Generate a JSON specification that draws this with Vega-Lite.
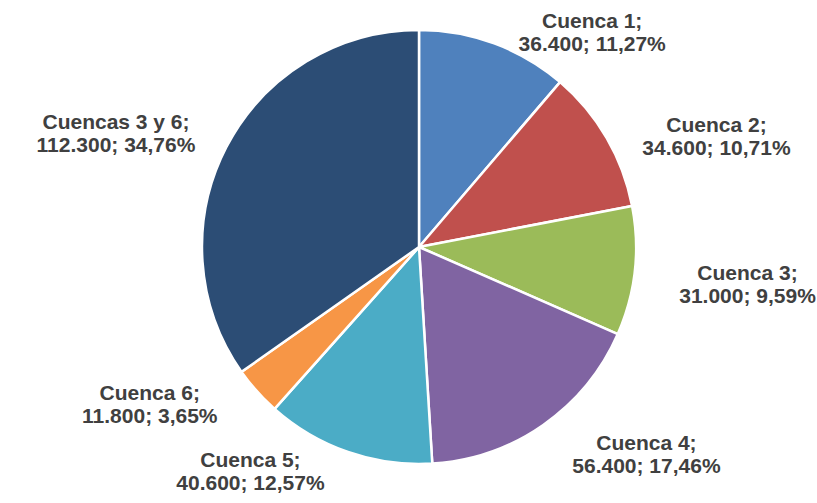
{
  "$schema": "https://vega.github.io/schema/vega-lite/v6.json",
  "width": 796,
  "height": 494,
  "autosize": {"type": "none"},
  "padding": {"left": 21, "top": 0, "right": 0, "bottom": 9},
  "background": "white",
  "config": {"view": {"stroke": null}},
  "data": {
    "values": [
      {"orden": 1, "cuenca": "Cuenca 1", "valor": 36400, "etiqueta": "Cuenca 1;\n36.400; 11,27%"},
      {"orden": 2, "cuenca": "Cuenca 2", "valor": 34600, "etiqueta": "Cuenca 2;\n34.600; 10,71%"},
      {"orden": 3, "cuenca": "Cuenca 3", "valor": 31000, "etiqueta": "Cuenca 3;\n31.000; 9,59%"},
      {"orden": 4, "cuenca": "Cuenca 4", "valor": 56400, "etiqueta": "Cuenca 4;\n56.400; 17,46%"},
      {"orden": 5, "cuenca": "Cuenca 5", "valor": 40600, "etiqueta": "Cuenca 5;\n40.600; 12,57%"},
      {"orden": 6, "cuenca": "Cuenca 6", "valor": 11800, "etiqueta": "Cuenca 6;\n11.800; 3,65%"},
      {"orden": 7, "cuenca": "Cuencas 3 y 6", "valor": 112300, "etiqueta": "Cuencas 3 y 6;\n112.300; 34,76%"}
    ]
  },
  "encoding": {
    "theta": {"field": "valor", "type": "quantitative", "stack": true},
    "order": {"field": "orden", "type": "quantitative"}
  },
  "layer": [
    {
      "mark": {"type": "arc", "outerRadius": 217, "stroke": "white", "strokeWidth": 2.5},
      "encoding": {
        "color": {
          "field": "cuenca",
          "type": "nominal",
          "legend": null,
          "scale": {
            "domain": ["Cuenca 1", "Cuenca 2", "Cuenca 3", "Cuenca 4", "Cuenca 5", "Cuenca 6", "Cuencas 3 y 6"],
            "range": ["#4F81BD", "#C0504D", "#9BBB59", "#8064A2", "#4BACC6", "#F79646", "#2C4D75"]
          }
        }
      }
    },
    {
      "mark": {"type": "text", "radius": 240, "dx": 90, "align": "center", "baseline": "middle", "lineBreak": "\n", "lineHeight": 23, "font": "Liberation Sans", "fontSize": 21, "fontWeight": "bold", "color": "#404040"},
      "encoding": {
        "detail": {"field": "cuenca", "type": "nominal"},
        "text": {
          "condition": {"test": "indexof(['Cuenca 5','Cuenca 6','Cuencas 3 y 6'], datum.cuenca) < 0", "field": "etiqueta", "type": "nominal"},
          "value": ""
        }
      }
    },
    {
      "mark": {"type": "text", "radius": 240, "dx": -90, "dy": -13, "align": "center", "baseline": "middle", "lineBreak": "\n", "lineHeight": 23, "font": "Liberation Sans", "fontSize": 21, "fontWeight": "bold", "color": "#404040"},
      "encoding": {
        "detail": {"field": "cuenca", "type": "nominal"},
        "text": {
          "condition": {"test": "indexof(['Cuenca 5','Cuenca 6','Cuencas 3 y 6'], datum.cuenca) >= 0", "field": "etiqueta", "type": "nominal"},
          "value": ""
        }
      }
    }
  ]
}
